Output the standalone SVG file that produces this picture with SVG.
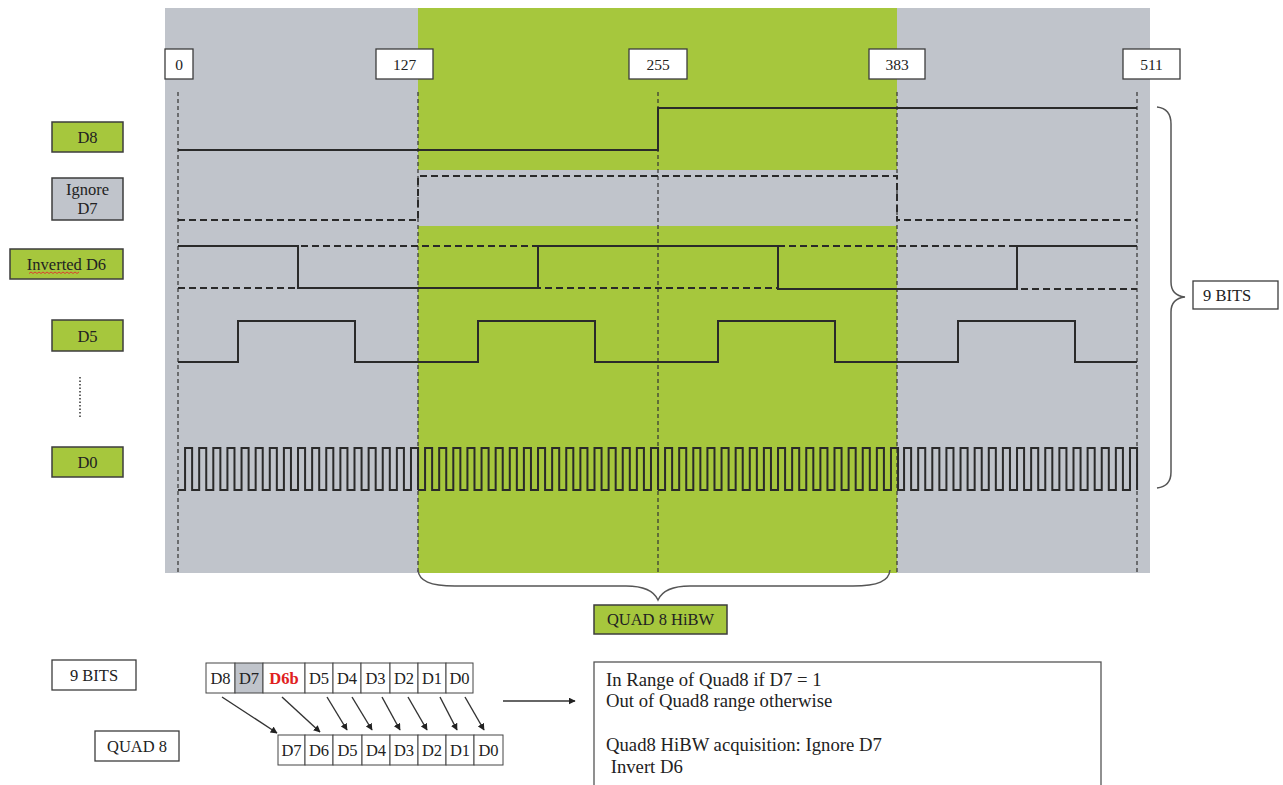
<svg xmlns="http://www.w3.org/2000/svg" width="1283" height="785" viewBox="0 0 1283 785">
<style>
text{font-family:"Liberation Serif","Times New Roman",serif;fill:#222;}
.lbl{font-size:16.5px;text-anchor:middle;}
.num{font-size:15.5px;text-anchor:middle;}
.note{font-size:18.7px;}
.gbox{fill:#a6c73d;stroke:#3c3c3c;stroke-width:1.5;}
.graybox{fill:#c0c4cb;stroke:#3c3c3c;stroke-width:1.5;}
.wbox{fill:#fff;stroke:#3c3c3c;stroke-width:1.3;}
.cell{fill:#fff;stroke:#444;stroke-width:1;}
.grid{stroke:#333;stroke-width:1.2;stroke-dasharray:4 3;fill:none;}
.wave{stroke:#2a2a2a;stroke-width:2;fill:none;}
.dash{stroke:#2a2a2a;stroke-width:2;fill:none;stroke-dasharray:7 4;}
.brace{stroke:#555;stroke-width:1.5;fill:none;}
.conn{stroke:#333;stroke-width:1.4;fill:none;marker-end:url(#ah);}
</style>
<defs>
<marker id="ah" viewBox="0 0 10 10" refX="9" refY="5" markerWidth="7" markerHeight="7" orient="auto-start-reverse" markerUnits="userSpaceOnUse">
<path d="M0,0 L10,5 L0,10 z" fill="#222"/>
</marker>
<path id="d0q" d="M178,490 h7.06v-42h7.06v42h7.06v-42h7.06v42h7.06v-42h7.06v42h7.06v-42h7.06v42h7.06v-42h7.06v42h7.06v-42h7.06v42h7.06v-42h7.06v42h7.06v-42h7.06v42h7.06v-42h7.06v42h7.06v-42h7.06v42h7.06v-42h7.06v42h7.06v-42h7.06v42h7.06v-42h7.06v42h7.06v-42h7.06v42h7.06v-42h7.06v42h7.06v-42h7.06v42h7.06v-42h7.06v42"/>
</defs>

<g id="background">
<rect x="165" y="8" width="985" height="565" fill="#c0c4cb"/>
<rect x="418" y="8" width="479" height="162" fill="#a6c73d"/>
<rect x="418" y="226" width="479" height="347" fill="#a6c73d"/>
</g>

<g id="grid">
<line class="grid" x1="178" y1="92" x2="178" y2="575"/>
<line class="grid" x1="418" y1="92" x2="418" y2="575"/>
<line class="grid" x1="658" y1="92" x2="658" y2="575"/>
<line class="grid" x1="897" y1="92" x2="897" y2="575"/>
<line class="grid" x1="1137" y1="92" x2="1137" y2="575"/>
</g>

<g id="axis-labels">
<g id="t0"><rect class="wbox" x="165" y="49" width="28" height="30"/><text class="num" x="179" y="69.5">0</text></g>
<g id="t127"><rect class="wbox" x="376" y="49" width="57" height="30"/><text class="num" x="404.5" y="69.5">127</text></g>
<g id="t255"><rect class="wbox" x="629" y="49" width="58" height="30"/><text class="num" x="658" y="69.5">255</text></g>
<g id="t383"><rect class="wbox" x="869" y="49" width="56" height="30"/><text class="num" x="897" y="69.5">383</text></g>
<g id="t511"><rect class="wbox" x="1123" y="49" width="57" height="30"/><text class="num" x="1151.5" y="69.5">511</text></g>
</g>

<g id="waveforms">
<path id="w-d8" class="wave" d="M178,150 H658 V108 H1137"/>
<path id="w-d7" class="dash" d="M178,220 H418 V176 H897 V220 H1137"/>
<path id="w-d6" class="wave" d="M178,246 H298 V288 H538 V246 H778 V289 H1017 V246 H1137"/>
<path id="w-d6n" class="dash" d="M178,288 H298 V246 H538 V288 H778 V246 H1017 V289 H1137"/>
<path id="w-d5" class="wave" d="M178,362 H238 V321 H355 V362 H478 V321 H595 V362 H718 V321 H835 V362 H958 V321 H1075 V362 H1137"/>
<g id="w-d0" class="wave">
<use href="#d0q"/>
<use href="#d0q" x="240"/>
<use href="#d0q" x="480"/>
<use href="#d0q" x="719"/>
</g>
</g>

<g id="lbl-d8"><rect class="gbox" x="52" y="122" width="71" height="30"/><text class="lbl" x="87.5" y="142.5">D8</text></g>
<g id="lbl-d7"><rect class="graybox" x="52" y="178" width="71" height="42"/><text class="lbl" x="87.5" y="195">Ignore</text><text class="lbl" x="87.5" y="214">D7</text></g>
<g id="lbl-d6"><rect class="gbox" x="10" y="249" width="113" height="30"/><text class="lbl" x="66.5" y="269.5">Inverted D6</text>
<path d="M29,273.5 l2,-1.5 l2,1.5 l2,-1.5 l2,1.5 l2,-1.5 l2,1.5 l2,-1.5 l2,1.5 l2,-1.5 l2,1.5 l2,-1.5 l2,1.5 l2,-1.5 l2,1.5 l2,-1.5 l2,1.5 l2,-1.5 l2,1.5 l2,-1.5 l2,1.5 l2,-1.5 l2,1.5 l2,-1.5 l2,1.5 l2,-1.5" stroke="#e03030" stroke-width="0.9" fill="none"/></g>
<g id="lbl-d5"><rect class="gbox" x="52" y="320" width="71" height="31"/><text class="lbl" x="87.5" y="341.5">D5</text></g>
<g id="lbl-dots"><line x1="80" y1="377" x2="80" y2="417" stroke="#333" stroke-width="1.5" stroke-dasharray="1.5 2"/></g>
<g id="lbl-d0"><rect class="gbox" x="52" y="447" width="71" height="30"/><text class="lbl" x="87.5" y="467.5">D0</text></g>

<g id="brace-9bits">
<path class="brace" d="M1157,107 C1166,108 1171,113 1171,124 V282 C1171,291 1175,296 1185,297 C1175,298 1171,303 1171,312 V472 C1171,482 1166,487 1157,488"/>
</g>
<g id="lbl-9bits-r"><rect class="wbox" x="1193" y="281" width="85" height="28"/><text class="lbl" x="1203" y="300.5" style="text-anchor:start">9 BITS</text></g>

<g id="brace-quad">
<path class="brace" d="M418,570 C419,581 430,586 455,586 H626 C645,586 654,591 658,600 C662,591 671,586 690,586 H853 C878,586 889,581 890,570"/>
</g>
<g id="lbl-quad8hibw"><rect class="gbox" x="594" y="605" width="133" height="29"/><text class="lbl" x="660.5" y="625">QUAD 8 HiBW</text></g>

<g id="lbl-9bits"><rect class="wbox" x="52" y="660" width="84" height="30"/><text class="lbl" x="94" y="680.5">9 BITS</text></g>
<g id="lbl-quad8"><rect class="wbox" x="95" y="731" width="84" height="30"/><text class="lbl" x="137" y="751.5">QUAD 8</text></g>

<g id="bits-9">
<rect class="cell" x="206" y="663" width="29" height="30"/>
<rect class="cell" x="235" y="663" width="28" height="30" style="fill:#c0c4cb"/>
<rect class="cell" x="263" y="663" width="42" height="30"/>
<rect class="cell" x="305" y="663" width="28" height="30"/>
<rect class="cell" x="333" y="663" width="28" height="30"/>
<rect class="cell" x="361" y="663" width="29" height="30"/>
<rect class="cell" x="390" y="663" width="28" height="30"/>
<rect class="cell" x="418" y="663" width="28" height="30"/>
<rect class="cell" x="446" y="663" width="27" height="30"/>
<text class="lbl" x="220.5" y="684">D8</text>
<text class="lbl" x="249" y="684">D7</text>
<text class="lbl" x="284" y="684" style="fill:#e02020;font-weight:bold">D6b</text>
<text class="lbl" x="319" y="684">D5</text>
<text class="lbl" x="347" y="684">D4</text>
<text class="lbl" x="375.5" y="684">D3</text>
<text class="lbl" x="404" y="684">D2</text>
<text class="lbl" x="432" y="684">D1</text>
<text class="lbl" x="459.5" y="684">D0</text>
</g>

<g id="bits-quad8">
<rect class="cell" x="278" y="735" width="27" height="30"/>
<rect class="cell" x="305" y="735" width="28" height="30"/>
<rect class="cell" x="333" y="735" width="29" height="30"/>
<rect class="cell" x="362" y="735" width="28" height="30"/>
<rect class="cell" x="390" y="735" width="28" height="30"/>
<rect class="cell" x="418" y="735" width="28" height="30"/>
<rect class="cell" x="446" y="735" width="28" height="30"/>
<rect class="cell" x="474" y="735" width="29" height="30"/>
<text class="lbl" x="291.5" y="756">D7</text>
<text class="lbl" x="319" y="756">D6</text>
<text class="lbl" x="347.5" y="756">D5</text>
<text class="lbl" x="376" y="756">D4</text>
<text class="lbl" x="404" y="756">D3</text>
<text class="lbl" x="432" y="756">D2</text>
<text class="lbl" x="460" y="756">D1</text>
<text class="lbl" x="488.5" y="756">D0</text>
</g>

<g id="connectors">
<line class="conn" x1="222" y1="697" x2="277" y2="733"/>
<line class="conn" x1="282" y1="697" x2="320" y2="732"/>
<line class="conn" x1="327" y1="697" x2="347" y2="730"/>
<line class="conn" x1="352" y1="697" x2="372" y2="730"/>
<line class="conn" x1="382" y1="697" x2="400" y2="730"/>
<line class="conn" x1="408" y1="697" x2="427" y2="730"/>
<line class="conn" x1="440" y1="697" x2="457" y2="730"/>
<line class="conn" x1="465" y1="697" x2="484" y2="730"/>
<line class="conn" x1="503" y1="701" x2="575" y2="701"/>
</g>

<g id="note">
<rect x="594" y="662" width="507" height="140" fill="#fff" stroke="#555" stroke-width="1.3"/>
<text class="note" x="606" y="686">In Range of Quad8 if D7 = 1</text>
<text class="note" x="606" y="707">Out of Quad8 range otherwise</text>
<text class="note" x="606" y="751">Quad8 HiBW acquisition: Ignore D7</text>
<text class="note" x="606" y="773" xml:space="preserve"> Invert D6</text>
</g>
</svg>
